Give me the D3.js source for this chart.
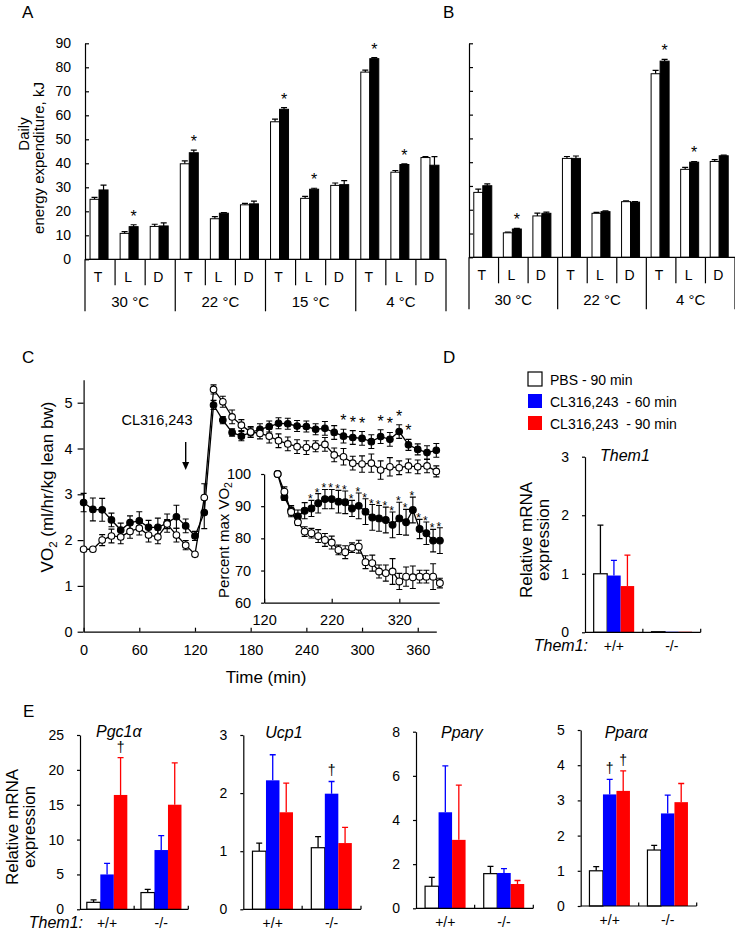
<!DOCTYPE html>
<html>
<head>
<meta charset="utf-8">
<title>Them1 energy expenditure</title>
<script src="https://cdn.jsdelivr.net/npm/d3@7"></script>
<style>
  body { margin: 0; background: #fff; }
  .domain, .tick line { stroke: #000; stroke-width: 1.2px; }
</style>
</head>
<body>
<script>
// ---- A / B : daily energy expenditure, kJ (open = white bar, closed = black bar) ----
var periods = ["T", "L", "D"];
var tempsA = ["30 °C", "22 °C", "15 °C", "4 °C"];
var eeAWhite    = [25, 10.8, 13.7, 39.8, 16.9, 22.7, 57.3, 25.4, 30.8, 78, 36.3, 42.4];
var eeAWhiteErr = [0.8, 0.7, 0.9, 1.2, 0.9, 0.6, 1.1, 0.8, 1.0, 0.8, 0.7, 0.4];
var eeABlack    = [28.9, 13.6, 13.9, 44.4, 19.2, 23.1, 62.5, 29.2, 31.1, 83.6, 39.5, 39.2];
var eeABlackErr = [2.0, 0.8, 1.3, 1.1, 0.3, 1.1, 0.7, 0.4, 1.7, 0.4, 0.3, 3.6];
var eeASig      = [0, 1, 0, 1, 0, 0, 1, 1, 0, 1, 1, 0];

var tempsB = ["30 °C", "22 °C", "4 °C"];
var eeBWhite    = [27.3, 10.3, 17.4, 41.6, 18.5, 23.4, 77.2, 37.0, 40.3];
var eeBWhiteErr = [1.4, 0.3, 1.2, 0.8, 0.4, 0.3, 1.4, 0.8, 0.8];
var eeBBlack    = [30.1, 11.9, 18.5, 41.6, 19.2, 23.2, 82.5, 40.0, 42.7];
var eeBBlackErr = [0.8, 0.3, 0.5, 1.0, 0.3, 0.2, 0.7, 0.3, 0.3];
var eeBSig      = [0, 1, 0, 0, 0, 0, 1, 1, 0];

// ---- C : VO2 time course ----
var vo2Times = d3.range(0, 381, 10);
var vo2Filled    = [2.82, 2.67, 2.66, 2.44, 2.22, 2.38, 2.42, 2.28, 2.28, 2.37, 2.51, 2.31, 2.09, 2.60,
                    4.95, 4.62, 4.35, 4.27, 4.35, 4.42, 4.48, 4.55, 4.54, 4.49, 4.48, 4.42, 4.44, 4.35,
                    4.27, 4.24, 4.22, 4.15, 4.26, 4.20, 4.37, 4.08, 3.98, 3.91, 3.96];
var vo2FilledErr = [0.2, 0.25, 0.25, 0.15, 0.15, 0.15, 0.2, 0.15, 0.2, 0.2, 0.25, 0.15, 0.1, 0.35,
                    0.1, 0.08, 0.08, 0.1, 0.1, 0.12, 0.12, 0.12, 0.12, 0.12, 0.12, 0.12, 0.15, 0.15,
                    0.15, 0.15, 0.15, 0.15, 0.15, 0.15, 0.15, 0.12, 0.12, 0.15, 0.15];
var vo2Open      = [1.80, 1.80, 2.00, 2.09, 2.07, 2.19, 2.26, 2.11, 2.07, 2.35, 2.11, 1.89, 1.69, 2.93,
                    5.29, 5.02, 4.69, 4.51, 4.36, 4.33, 4.27, 4.17, 4.10, 4.04, 4.02, 4.05, 4.09, 3.86,
                    3.82, 3.68, 3.66, 3.68, 3.53, 3.60, 3.58, 3.62, 3.60, 3.62, 3.50];
var vo2OpenErr   = [0.03, 0.03, 0.12, 0.15, 0.15, 0.15, 0.15, 0.15, 0.15, 0.1, 0.15, 0.1, 0.03, 0.3,
                    0.1, 0.12, 0.15, 0.12, 0.12, 0.12, 0.15, 0.15, 0.15, 0.15, 0.15, 0.12, 0.15, 0.15,
                    0.18, 0.15, 0.18, 0.2, 0.2, 0.2, 0.15, 0.15, 0.15, 0.15, 0.12];
var vo2SigTimes = [280, 290, 300, 320, 330, 340, 350];

// inset : percent of max VO2
var pctTimes = d3.range(140, 381, 10);
var pctFilled    = [100, 92.8, 88.7, 86.8, 88.6, 89.3, 90.9, 92.2, 92.2, 91.4, 91.2, 89.3, 90.1,
                    88.3, 86.5, 86.2, 85.7, 84.2, 86.2, 85.0, 88.8, 82.9, 81.6, 79.3, 79.3];
var pctFilledErr = [0, 1, 1.5, 2, 2.5, 2.5, 3, 3, 3, 3.5, 3.5, 2.5, 4,
                    4, 4, 4, 4, 4, 5, 4, 4, 3, 3.5, 3.5, 4];
var pctOpen      = [100, 94.5, 88.2, 85.0, 82.1, 81.6, 80.7, 79.5, 78.7, 76.4, 75.7, 77.1, 77.4,
                    72.6, 72.3, 69.7, 69.2, 69.7, 66.6, 68.1, 67.9, 68.1, 68.1, 68.1, 66.1];
var pctOpenErr   = [0, 1.5, 1.5, 1, 1.5, 1.5, 2, 2, 2, 1.5, 2, 1.5, 2,
                    2, 2.5, 2, 2.5, 4, 2.5, 3, 3.5, 2, 2, 4, 1.5];
var pctSigTimes = d3.range(190, 381, 10);

// ---- D / E : relative mRNA expression ----
var genotypes = ["+/+", "-/-"];
var treatments = ["PBS - 90 min", "CL316,243  - 60 min", "CL316,243  - 90 min"];
var treatColors = ["#ffffff", "#0000ff", "#ff0000"];

var them1Mean = [[1.0, 0.97, 0.79], [0.01, 0.01, 0.01]];
var them1Err  = [[0.83, 0.26, 0.53], [0, 0, 0]];
var pgc1aMean = [[1.0, 5.0, 16.4], [2.4, 8.5, 15.0]];
var pgc1aErr  = [[0.35, 1.6, 5.35], [0.47, 2.06, 6.0]];
var ucp1Mean  = [[1.0, 2.22, 1.67], [1.06, 1.99, 1.14]];
var ucp1Err   = [[0.14, 0.44, 0.5], [0.19, 0.21, 0.27]];
var ppargMean = [[1.0, 4.35, 3.1], [1.57, 1.6, 1.1]];
var ppargErr  = [[0.4, 2.1, 2.48], [0.33, 0.2, 0.16]];
var pparaMean = [[1.0, 3.17, 3.27], [1.59, 2.63, 2.95]];
var pparaErr  = [[0.12, 0.43, 0.57], [0.13, 0.52, 0.53]];

var svg = d3.select("body").append("svg")
    .attr("width", 735)
    .attr("height", 931)
    .style("font-family", "'Liberation Sans', Arial, sans-serif");

var intFmt = d3.format("d");

function letter(t, x, y) {
  svg.append("text").attr("x", x).attr("y", y).attr("font-size", 17).text(t);
}

function fixAxis(sel, size) {
  sel.attr("font-family", null).attr("font-size", size);
}

// ---------- A and B ----------
function energyPanel(temps, white, whiteErr, black, blackErr, sig, left, right, zeroY, topY, showLabels) {
  var g = svg.append("g");
  var cats = [];
  temps.forEach(function(t) { periods.forEach(function(p) { cats.push(t + "|" + p); }); });

  var x = d3.scaleBand().domain(cats).range([left, right]);
  var y = d3.scaleLinear().domain([0, 90]).range([zeroY, topY]);
  var bw = 9;

  var rows = [];
  cats.forEach(function(c, i) {
    rows.push({c: c, v: white[i], e: whiteErr[i], fill: "#fff", dx: -10, sig: 0});
    rows.push({c: c, v: black[i], e: blackErr[i], fill: "#000", dx: -1, sig: sig[i]});
  });
  var cx = function(d) { return x(d.c) + x.bandwidth() / 2 + d.dx + bw / 2; };

  // error bars (upper only)
  g.selectAll(".err").data(rows).enter().append("path")
      .attr("fill", "none").attr("stroke", "#000").attr("stroke-width", 1.2)
      .attr("d", function(d) {
        var xc = cx(d), yt = y(d.v + d.e);
        return "M" + xc + "," + y(d.v) + "V" + yt + "M" + (xc - 3) + "," + yt + "H" + (xc + 3);
      });

  g.selectAll(".bar").data(rows).enter().append("rect")
      .attr("x", function(d) { return x(d.c) + x.bandwidth() / 2 + d.dx; })
      .attr("width", bw)
      .attr("y", function(d) { return y(d.v); })
      .attr("height", function(d) { return zeroY - y(d.v); })
      .attr("fill", function(d) { return d.fill; })
      .attr("stroke", "#000").attr("stroke-width", 1);

  g.selectAll(".star").data(rows.filter(function(d) { return d.sig; })).enter().append("text")
      .attr("x", cx).attr("y", function(d) { return y(d.v + d.e) - 3; })
      .attr("text-anchor", "middle").attr("font-size", 16).text("*");

  g.append("g")
      .attr("transform", "translate(" + left + ",0)")
      .call(d3.axisLeft(y).tickValues(d3.range(0, 91, 10)).tickSizeInner(-4).tickSizeOuter(0)
            .tickPadding(14).tickFormat(showLabels ? intFmt : ""))
      .call(fixAxis, 14);

  // table under the axis
  g.append("line").attr("x1", left).attr("x2", right).attr("y1", zeroY).attr("y2", zeroY)
      .attr("stroke", "#000").attr("stroke-width", 1.2);
  var edges = cats.map(function(c) { return x(c); }).concat([right]);
  g.selectAll(".sep").data(edges).enter().append("line")
      .attr("x1", function(d) { return d; }).attr("x2", function(d) { return d; })
      .attr("y1", zeroY)
      .attr("y2", function(d, i) { return zeroY + (i % 3 === 0 ? 52 : 26); })
      .attr("stroke", "#000").attr("stroke-width", 1.2);
  g.selectAll(".per").data(cats).enter().append("text")
      .attr("x", function(d) { return x(d) + x.bandwidth() / 2 - 2; })
      .attr("y", zeroY + 23)
      .attr("text-anchor", "middle").attr("font-size", 14)
      .text(function(d) { return d.split("|")[1]; });
  g.selectAll(".temp").data(temps).enter().append("text")
      .attr("x", function(d) { return x(d + "|L") + x.bandwidth() / 2; })
      .attr("y", zeroY + 48)
      .attr("text-anchor", "middle").attr("font-size", 15)
      .text(function(d) { return d; });
}

energyPanel(tempsA, eeAWhite, eeAWhiteErr, eeABlack, eeABlackErr, eeASig, 85, 446, 259.3, 43.3, true);
energyPanel(tempsB, eeBWhite, eeBWhiteErr, eeBBlack, eeBBlackErr, eeBSig, 469, 735, 257.3, 43.3, false);

svg.append("text").attr("transform", "translate(29,134) rotate(-90)")
    .attr("text-anchor", "middle").attr("font-size", 15).text("Daily");
svg.append("text").attr("transform", "translate(44,158) rotate(-90)")
    .attr("text-anchor", "middle").attr("font-size", 15).text("energy expenditure, kJ");

letter("A", 22, 18);
letter("B", 443, 18);

// ---------- C ----------
var xC = d3.scaleLinear().domain([0, 380]).range([83.6, 436.3]);
var yC = d3.scaleLinear().domain([0, 5.5]).range([631.7, 379.8]);
var xI = d3.scaleLinear().domain([120, 379]).range([264.1, 439.2]);
var yI = d3.scaleLinear().domain([60, 100]).range([602.7, 474]);

function series(g, x, y, times, vals, errs, filled, r, cap) {
  var pts = times.map(function(t, i) { return {t: t, v: vals[i], e: errs[i]}; });
  g.append("path").datum(pts)
      .attr("fill", "none").attr("stroke", "#000").attr("stroke-width", 1.3)
      .attr("d", d3.line().x(function(d) { return x(d.t); }).y(function(d) { return y(d.v); }));
  g.selectAll(null).data(pts.filter(function(d) { return d.e > 0; })).enter().append("path")
      .attr("fill", "none").attr("stroke", "#000").attr("stroke-width", 1.1)
      .attr("d", function(d) {
        var xc = x(d.t), y1 = y(d.v + d.e), y2 = y(d.v - d.e);
        return "M" + xc + "," + y1 + "V" + y2 +
               "M" + (xc - cap) + "," + y1 + "H" + (xc + cap) +
               "M" + (xc - cap) + "," + y2 + "H" + (xc + cap);
      });
  g.selectAll(null).data(pts).enter().append("circle")
      .attr("cx", function(d) { return x(d.t); })
      .attr("cy", function(d) { return y(d.v); })
      .attr("r", r)
      .attr("fill", filled ? "#000" : "#fff")
      .attr("stroke", "#000").attr("stroke-width", 1.1);
}

var gC = svg.append("g");
gC.append("g").attr("transform", "translate(83.6,0)")
    .call(d3.axisLeft(yC).tickValues(d3.range(0, 6)).tickSizeInner(6).tickSizeOuter(0)
          .tickPadding(5).tickFormat(intFmt))
    .call(fixAxis, 14.5);
gC.append("g").attr("transform", "translate(0,631.7)")
    .call(d3.axisBottom(xC).tickValues(d3.range(0, 361, 60)).tickSizeInner(-4).tickSizeOuter(0)
          .tickPadding(13).tickFormat(intFmt))
    .call(fixAxis, 14.5);

series(gC, xC, yC, vo2Times, vo2Filled, vo2FilledErr, true, 3.3, 3);
series(gC, xC, yC, vo2Times, vo2Open, vo2OpenErr, false, 3.3, 3);

gC.selectAll(".cstar").data(vo2SigTimes).enter().append("text")
    .attr("x", function(t) { return xC(t); })
    .attr("y", function(t) {
      var i = vo2Times.indexOf(t);
      return yC(vo2Filled[i] + vo2FilledErr[i]) - 3;
    })
    .attr("text-anchor", "middle").attr("font-size", 16).text("*");

// injection arrow
var ax = xC(110);
gC.append("line").attr("x1", ax).attr("x2", ax).attr("y1", 442).attr("y2", 463)
    .attr("stroke", "#000").attr("stroke-width", 1.4);
gC.append("path").attr("d", "M" + (ax - 3.5) + ",462L" + (ax + 3.5) + ",462L" + ax + ",470Z").attr("fill", "#000");
gC.append("text").attr("x", 157).attr("y", 425).attr("text-anchor", "middle")
    .attr("font-size", 14.5).text("CL316,243");

var vo2Label = gC.append("text").attr("transform", "translate(53,487) rotate(-90)")
    .attr("text-anchor", "middle").attr("font-size", 17);
vo2Label.append("tspan").text("VO");
vo2Label.append("tspan").attr("font-size", 11.5).attr("dy", 4).text("2");
vo2Label.append("tspan").attr("dy", -4).text(" (ml/hr/kg lean bw)");

gC.append("text").attr("x", 266).attr("y", 683).attr("text-anchor", "middle")
    .attr("font-size", 17).text("Time (min)");

// inset
var gI = svg.append("g");
gI.append("g").attr("transform", "translate(264.1,0)")
    .call(d3.axisLeft(yI).tickValues(d3.range(60, 101, 10)).tickSizeInner(3).tickSizeOuter(0)
          .tickPadding(10).tickFormat(intFmt))
    .call(fixAxis, 14.5);
gI.append("g").attr("transform", "translate(0,602.7)")
    .call(d3.axisBottom(xI).tickValues([120, 220, 320]).tickSizeInner(-4).tickSizeOuter(0)
          .tickPadding(12).tickFormat(intFmt))
    .call(fixAxis, 14.5);

series(gI, xI, yI, pctTimes, pctFilled, pctFilledErr, true, 3.4, 3);
series(gI, xI, yI, pctTimes, pctOpen, pctOpenErr, false, 3.4, 3);

gI.selectAll(".istar").data(pctSigTimes).enter().append("text")
    .attr("x", function(t) { return xI(t) - 1; })
    .attr("y", function(t) {
      var i = pctTimes.indexOf(t);
      return yI(pctFilled[i] + pctFilledErr[i]) + 3;
    })
    .attr("text-anchor", "middle").attr("font-size", 12).text("*");

var pctLabel = gI.append("text").attr("transform", "translate(229,540) rotate(-90)")
    .attr("text-anchor", "middle").attr("font-size", 15);
pctLabel.append("tspan").text("Percent max VO");
pctLabel.append("tspan").attr("font-size", 10.5).attr("dy", 3).text("2");

letter("C", 22, 363);

// ---------- D and E ----------
function exprPanel(opt) {
  var g = svg.append("g");
  var x0 = d3.scaleBand().domain(genotypes).range([opt.left, opt.right]);
  var groupW = 40.5;
  var x1 = d3.scaleBand().domain(d3.range(treatments.length)).range([0, groupW]);
  var pad = (x0.bandwidth() - groupW) / 2;
  var y = d3.scaleLinear().domain([0, opt.max]).range([opt.zero, opt.top]);

  var bars = [];
  genotypes.forEach(function(gt, gi) {
    opt.mean[gi].forEach(function(v, ti) {
      bars.push({g: gt, gi: gi, t: ti, v: v, e: opt.err[gi][ti]});
    });
  });
  var bx = function(d) { return x0(d.g) + pad + x1(d.t); };
  var bc = function(d) { return bx(d) + x1.bandwidth() / 2; };
  var ecol = function(d) { return d.t === 0 ? "#000" : treatColors[d.t]; };

  g.selectAll(".err").data(bars.filter(function(d) { return d.e > 0; })).enter().append("path")
      .attr("fill", "none").attr("stroke-width", 1.3)
      .attr("stroke", ecol)
      .attr("d", function(d) {
        var xc = bc(d), yt = y(d.v + d.e);
        return "M" + xc + "," + y(d.v) + "V" + yt + "M" + (xc - 3) + "," + yt + "H" + (xc + 3);
      });

  g.selectAll(".bar").data(bars).enter().append("rect")
      .attr("x", bx)
      .attr("width", x1.bandwidth())
      .attr("y", function(d) { return y(d.v); })
      .attr("height", function(d) { return opt.zero - y(d.v); })
      .attr("fill", function(d) { return treatColors[d.t]; })
      .attr("stroke", function(d) { return d.t === 0 ? "#000" : "none"; })
      .attr("stroke-width", 1.2);

  g.selectAll(".dag").data(opt.dagger).enter().append("text")
      .attr("x", function(p) { return bc(bars[p[0] * 3 + p[1]]); })
      .attr("y", function(p) { var d = bars[p[0] * 3 + p[1]]; return y(d.v + d.e) - 6; })
      .attr("text-anchor", "middle").attr("font-size", 14).text("†");

  g.append("g").attr("transform", "translate(" + opt.left + ",0)")
      .call(d3.axisLeft(y).tickValues(d3.range(0, opt.max + 0.001, opt.step))
            .tickSizeInner(3).tickSizeOuter(0).tickPadding(13).tickFormat(intFmt))
      .call(fixAxis, 14);

  // x axis with small upward ticks between / after the genotype groups
  g.append("line").attr("x1", opt.left).attr("x2", opt.right)
      .attr("y1", opt.zero).attr("y2", opt.zero)
      .attr("stroke", "#000").attr("stroke-width", 1.2);
  g.selectAll(".xt").data(genotypes).enter().append("line")
      .attr("x1", function(d) { return x0(d) + x0.bandwidth(); })
      .attr("x2", function(d) { return x0(d) + x0.bandwidth(); })
      .attr("y1", opt.zero).attr("y2", opt.zero - 3.5)
      .attr("stroke", "#000").attr("stroke-width", 1.2);
  g.selectAll(".gl").data(genotypes).enter().append("text")
      .attr("x", function(d) { return x0(d) + x0.bandwidth() / 2; })
      .attr("y", opt.zero + 18.5)
      .attr("text-anchor", "middle").attr("font-size", 14)
      .text(function(d) { return d; });
  if (opt.them) {
    g.append("text").attr("x", opt.left + 3).attr("y", opt.zero + 18.5)
        .attr("text-anchor", "end").attr("font-size", 16).attr("font-style", "italic")
        .text("Them1:");
  }

  g.append("text").attr("x", opt.left + opt.titleDx).attr("y", opt.titleY)
      .attr("font-size", 16).attr("font-style", "italic").text(opt.title);

  if (opt.ylab) {
    g.append("text").attr("transform", "translate(" + opt.ylab[0] + "," + opt.ylab[2] + ") rotate(-90)")
        .attr("text-anchor", "middle").attr("font-size", 17).text("Relative mRNA");
    g.append("text").attr("transform", "translate(" + opt.ylab[1] + "," + opt.ylab[2] + ") rotate(-90)")
        .attr("text-anchor", "middle").attr("font-size", 17).text("expression");
  }
}

exprPanel({left: 585, right: 700.7, zero: 632.3, top: 456.7, max: 3, step: 1, title: "Them1",
           titleDx: 15, titleY: 461, mean: them1Mean, err: them1Err, dagger: [], them: true,
           ylab: [532, 549, 540]});
exprPanel({left: 80, right: 188.3, zero: 909.3, top: 735, max: 25, step: 5, title: "Pgc1α",
           titleDx: 16, titleY: 737, mean: pgc1aMean, err: pgc1aErr, dagger: [[0, 2]], them: true,
           ylab: [18, 35, 827]});
exprPanel({left: 243.3, right: 361, zero: 909.3, top: 735, max: 3, step: 1, title: "Ucp1",
           titleDx: 22, titleY: 738, mean: ucp1Mean, err: ucp1Err, dagger: [[1, 1]]});
exprPanel({left: 416, right: 533.3, zero: 908.3, top: 731.7, max: 8, step: 2, title: "Pparγ",
           titleDx: 25, titleY: 738, mean: ppargMean, err: ppargErr, dagger: []});
exprPanel({left: 580.7, right: 696.7, zero: 906, top: 730, max: 5, step: 1, title: "Pparα",
           titleDx: 24, titleY: 738, mean: pparaMean, err: pparaErr, dagger: [[0, 1], [0, 2]]});

// legend for D / E
var leg = svg.append("g").attr("transform", "translate(528,372)");
var li = leg.selectAll("g").data(treatments).enter().append("g")
    .attr("transform", function(d, i) { return "translate(0," + i * 22 + ")"; });
li.append("rect").attr("width", 14).attr("height", 14)
    .attr("fill", function(d, i) { return treatColors[i]; })
    .attr("stroke", function(d, i) { return i === 0 ? "#000" : "none"; })
    .attr("stroke-width", 1.2);
li.append("text").attr("x", 22).attr("y", 12.5).attr("font-size", 14)
    .style("white-space", "pre").text(function(d) { return d; });

letter("D", 443, 363);
letter("E", 23, 717);
</script>
</body>
</html>
